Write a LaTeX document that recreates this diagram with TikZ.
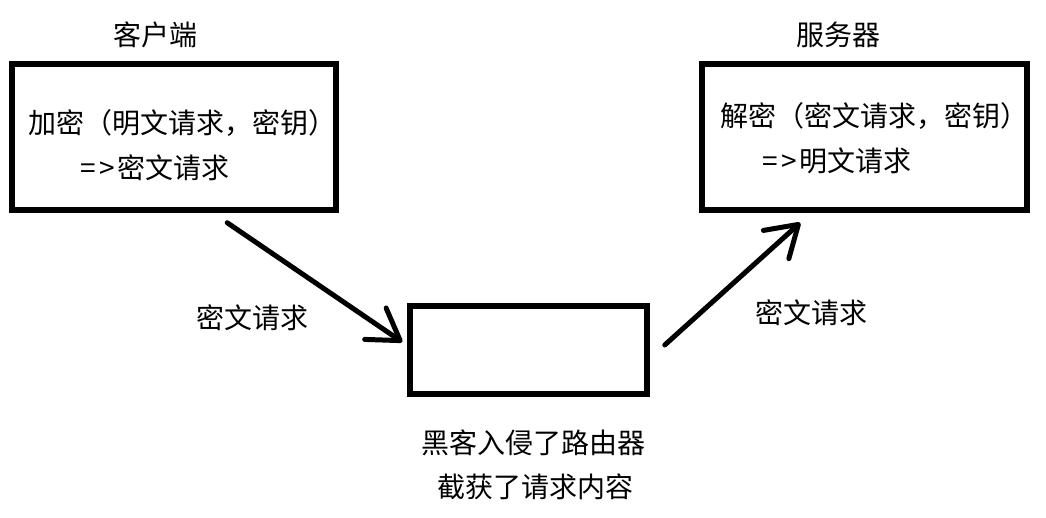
\documentclass[tikz,border=0pt]{standalone}
\usepackage{fontspec}
\setmainfont{Noto Sans CJK SC}
\usetikzlibrary{arrows.meta}
\begin{document}
\begin{tikzpicture}
  [x=1pt,y=-1pt,every node/.style={inner sep=0pt,font=\fontsize{28}{34}\selectfont,text height=21pt,text depth=0pt},
   box/.style={draw,line width=5.5pt,rectangle,text height=,text depth=},
   msg/.style={line width=5pt,line cap=round,line join=round,-{Straight Barb[length=30pt,width=38pt,round]}}]
\fill[white] (0,0) rectangle (1046,517);
\useasboundingbox (0,0) rectangle (1046,517);

\node (client)[box,minimum width=324pt,minimum height=146pt] at (174,137) {};
  \node (server)[box,minimum width=325pt,minimum height=146pt] at (864.5,137) {};
  \node (router)[box,minimum width=237pt,minimum height=88pt] at (528.5,350) {};

  \node (clientlabel) at (155,35) {客户端};
  \node (serverlabel) at (838,35) {服务器};

  \node (enc1)[anchor=west] at (28,123) {加密（明文请求，密钥）};
  \node (enc2)[anchor=west] at (80,168) {=\kern4pt>\kern2pt密文请求};
  \node (dec1)[anchor=west] at (720,116) {解密（密文请求，密钥）};
  \node (dec2)[anchor=west] at (762,161) {=\kern4pt>\kern2pt明文请求};

  \node (leftmsg) at (252,318) {密文请求};
  \node (rightmsg) at (811,313) {密文请求};

  \node (hack1) at (533,443) {黑客入侵了路由器};
  \node (hack2) at (535,487) {截获了请求内容};

 \path[msg]
   ([shift={(218,10)}]client.south west) edge ([shift={(-5,-8)}]router.west);

  \path[msg]
   ([shift={(15,-5)}]router.east) edge ([shift={(101,10)}]server.south west);

\end{tikzpicture}
\end{document}
